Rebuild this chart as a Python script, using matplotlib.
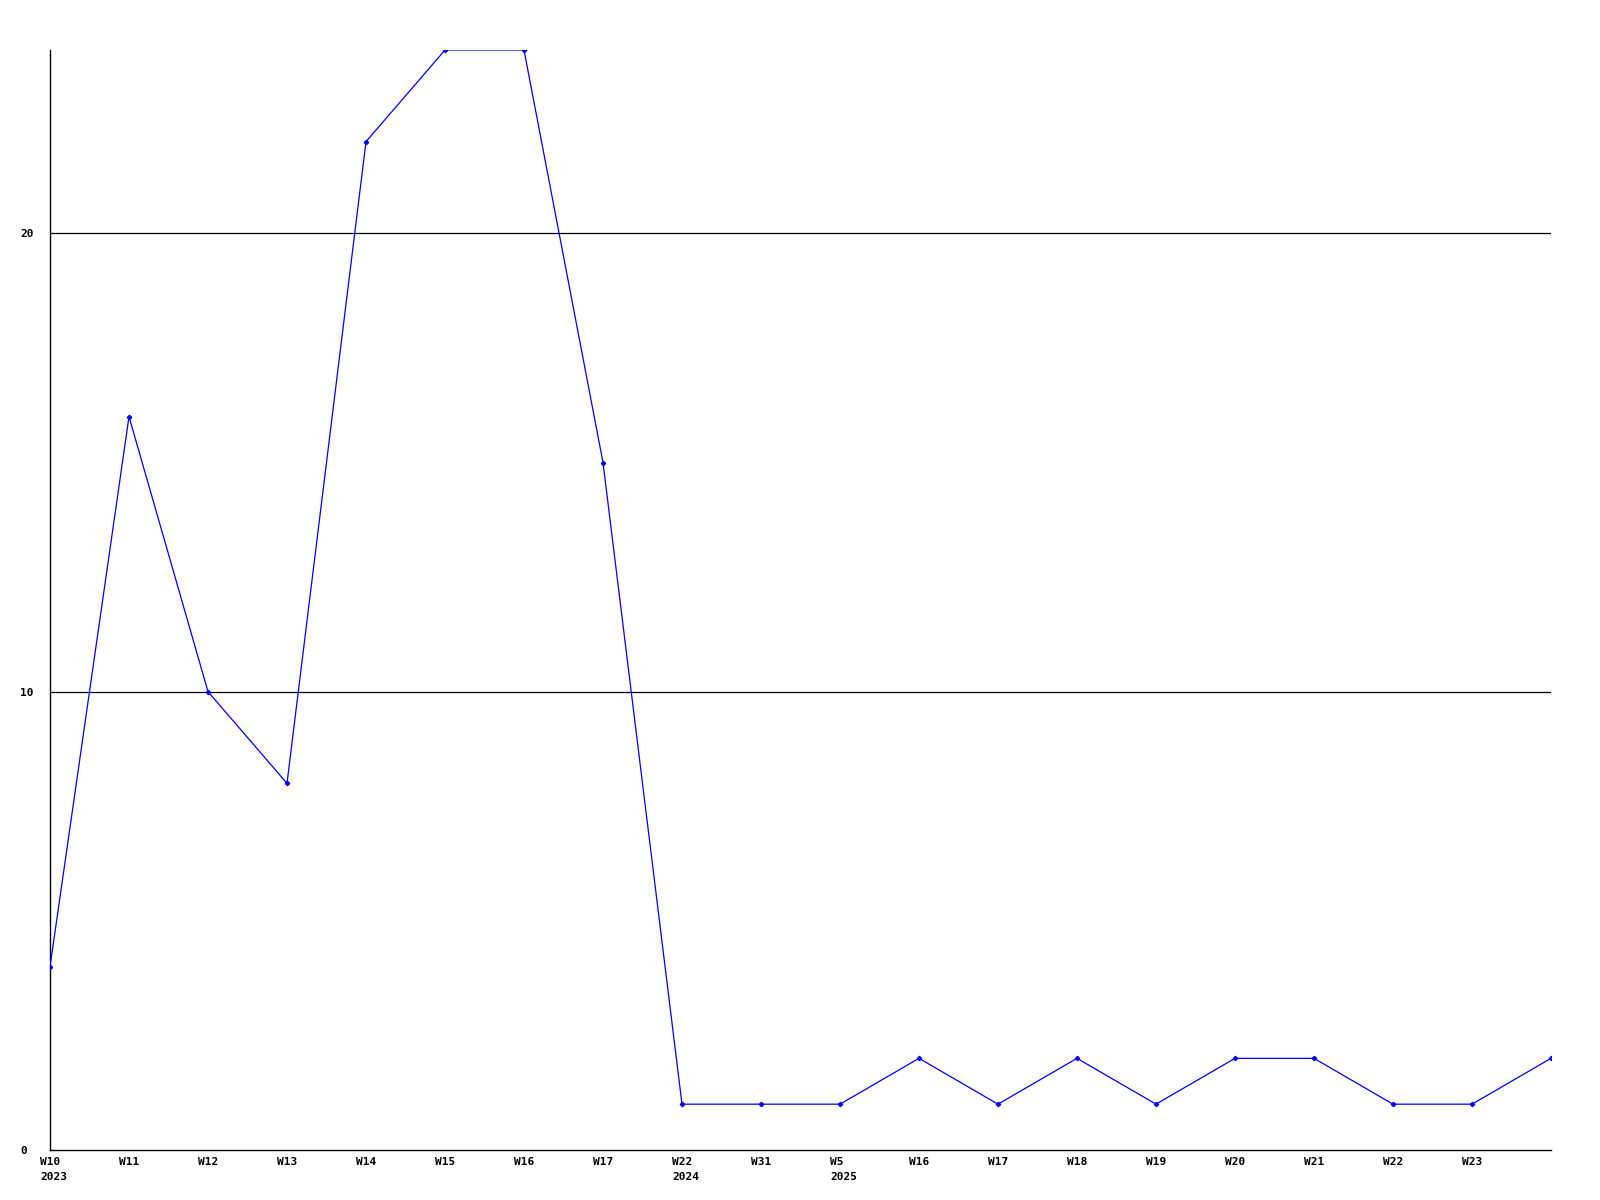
import matplotlib.pyplot as plt
from matplotlib.transforms import ScaledTranslation

# weekly counts
weeks = ['W10', 'W11', 'W12', 'W13', 'W14', 'W15', 'W16', 'W17', 'W22', 'W31',
         'W5', 'W16', 'W17', 'W18', 'W19', 'W20', 'W21', 'W22', 'W23', '']
years = ['2023', '', '', '', '', '', '', '', '2024', '',
         '2025', '', '', '', '', '', '', '', '', '']
values = [4, 16, 10, 8, 22, 24, 24, 15, 1, 1, 1, 2, 1, 2, 1, 2, 2, 1, 1, 2]
y_ticks = [0, 10, 20]

plt.rcParams['font.family'] = 'DejaVu Sans Mono'
plt.rcParams['font.weight'] = 'bold'

fig = plt.figure(figsize=(16, 12), dpi=100)
ax = fig.add_axes([50 / 1600, 1 - 1150 / 1200, 1501 / 1600, 1100 / 1200])

x = list(range(len(values)))
ax.plot(x, values, color='#0000ff', linewidth=0.9, marker='D', markersize=2.2,
        zorder=3)

for v in y_ticks[1:]:
    ax.axhline(v, color='black', linewidth=0.9, zorder=1)

ax.set_xlim(0, len(values) - 1)
ax.set_ylim(0, 24)

for s in ['top', 'right']:
    ax.spines[s].set_visible(False)
for s in ['left', 'bottom']:
    ax.spines[s].set_linewidth(1.0)

labels = [w if not y else w + '\n' + y for w, y in zip(weeks, years)]
ax.set_xticks(x)
ax.set_xticklabels(labels, fontsize=8, fontweight='bold', ha='left',
                   linespacing=1.6)
ax.tick_params(axis='x', length=0, pad=5)
off = ScaledTranslation(-10 / 100, 0, fig.dpi_scale_trans)
for lbl in ax.get_xticklabels():
    lbl.set_transform(lbl.get_transform() + off)

ax.set_yticks(y_ticks)
ax.set_yticklabels([str(v) for v in y_ticks], fontsize=8, fontweight='bold',
                   ha='left')
ax.tick_params(axis='y', length=0, pad=21.6)

fig.savefig('out.png', dpi=100)
